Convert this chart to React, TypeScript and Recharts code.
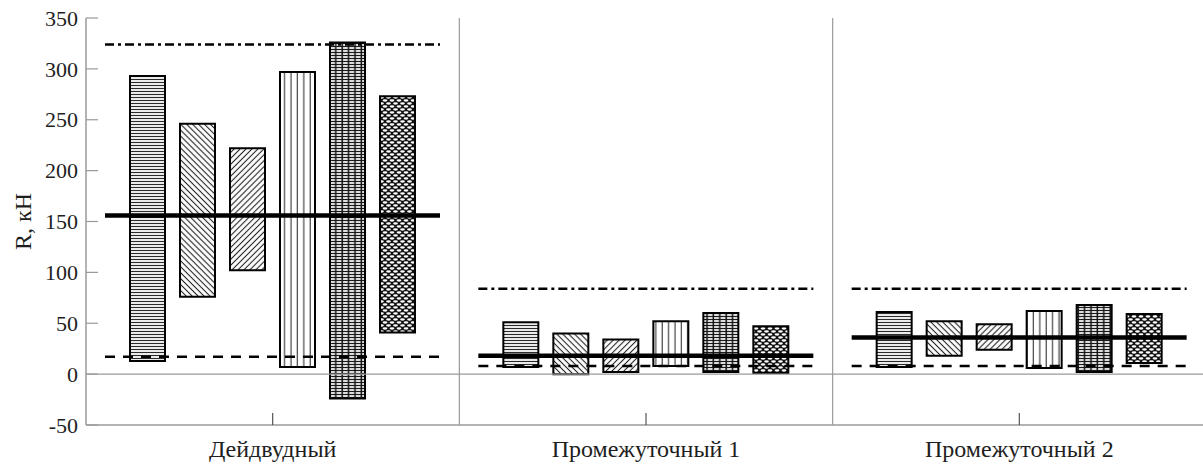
import React from 'react';
import { BarChart, Bar, XAxis, YAxis, ReferenceLine, Label } from 'recharts';

// Bearing groups along the shaft
const categories = ['Дейдвудный', 'Промежуточный 1', 'Промежуточный 2'];

// Reaction range [min, max], kN, for each loading variant per bearing
const variantA = [[13, 293], [7, 51], [7, 61]];
const variantB = [[76, 246], [0, 40], [18, 52]];
const variantC = [[102, 222], [2, 34], [24, 49]];
const variantD = [[7, 297], [8, 52], [6, 62]];
const variantE = [[-24, 326], [2, 60], [2, 68]];
const variantF = [[41, 273], [1, 47], [11, 59]];

// Reference levels per bearing, kN
const meanLevel = [156, 18, 36];
const upperLevel = [324, 84, 84];
const lowerLevel = [17, 8, 8];

const yTicks = [-50, 0, 50, 100, 150, 200, 250, 300, 350];

const variants = [
  { key: 'a', values: variantA, fill: 'url(#hatch-horizontal)' },
  { key: 'b', values: variantB, fill: 'url(#hatch-back)' },
  { key: 'c', values: variantC, fill: 'url(#hatch-forward)' },
  { key: 'd', values: variantD, fill: 'url(#hatch-vertical)' },
  { key: 'e', values: variantE, fill: 'url(#hatch-grid)' },
  { key: 'f', values: variantF, fill: 'url(#hatch-cells)' },
];

const rows = categories.map((name, i) => {
  const row: Record<string, unknown> = {
    name,
    mean: meanLevel[i],
    upper: upperLevel[i],
    lower: lowerLevel[i],
    levels: [lowerLevel[i], upperLevel[i]],
  };
  variants.forEach((v) => {
    row[v.key] = v.values[i];
  });
  return row;
});

const FONT = "'Liberation Serif', 'Times New Roman', Times, serif";
const TEXT = '#1e1e1e';
const GRAY = '#9a9a9a';

const HatchDefs = () => (
  <svg width={0} height={0} style={{ position: 'absolute' }}>
    <defs>
      <pattern id="hatch-horizontal" width={4} height={3} patternUnits="userSpaceOnUse">
        <rect width={4} height={3} fill="#fff" />
        <line x1={0} x2={4} y1={1.5} y2={1.5} stroke="#2a2a2a" strokeWidth={1.2} />
      </pattern>
      <pattern id="hatch-back" width={4.2} height={4.2} patternUnits="userSpaceOnUse" patternTransform="rotate(-45)">
        <rect width={4.2} height={4.2} fill="#fff" />
        <line x1={2.1} x2={2.1} y1={0} y2={4.2} stroke="#222" strokeWidth={1.1} />
      </pattern>
      <pattern id="hatch-forward" width={4.2} height={4.2} patternUnits="userSpaceOnUse" patternTransform="rotate(45)">
        <rect width={4.2} height={4.2} fill="#fff" />
        <line x1={2.1} x2={2.1} y1={0} y2={4.2} stroke="#222" strokeWidth={1.1} />
      </pattern>
      <pattern id="hatch-vertical" width={6.4} height={4} patternUnits="userSpaceOnUse">
        <rect width={6.4} height={4} fill="#fff" />
        <line x1={3} x2={3} y1={0} y2={4} stroke="#333" strokeWidth={1.1} />
      </pattern>
      <pattern id="hatch-grid" width={6.4} height={3} patternUnits="userSpaceOnUse">
        <rect width={6.4} height={3} fill="#fff" />
        <line x1={0} x2={6.4} y1={1.5} y2={1.5} stroke="#1a1a1a" strokeWidth={1.3} />
        <line x1={3} x2={3} y1={0} y2={3} stroke="#111" strokeWidth={1.5} />
      </pattern>
      <pattern id="hatch-cells" width={7} height={6} patternUnits="userSpaceOnUse">
        <rect width={7} height={6} fill="#111" />
        <ellipse cx={3.5} cy={1.5} rx={2.4} ry={1.15} fill="#fff" />
        <ellipse cx={0} cy={4.5} rx={2.4} ry={1.15} fill="#fff" />
        <ellipse cx={7} cy={4.5} rx={2.4} ry={1.15} fill="#fff" />
      </pattern>
    </defs>
  </svg>
);

const ValueTick = (props: any) => {
  const { x, y, payload } = props;
  return (
    <g>
      <line x1={x} x2={x + 12} y1={y} y2={y} stroke={GRAY} strokeWidth={1.2} />
      <text x={x - 8} y={y} dy="0.35em" textAnchor="end" fontFamily={FONT} fontSize={22} fill={TEXT}>
        {payload.value}
      </text>
    </g>
  );
};

const CategoryTick = (props: any) => {
  const { x, y, payload } = props;
  return (
    <g>
      <line x1={x} x2={x} y1={y - 12} y2={y} stroke="#555" strokeWidth={1.2} />
      <text x={x} y={y + 32} textAnchor="middle" fontFamily={FONT} fontSize={24} fill={TEXT}>
        {payload.value}
      </text>
    </g>
  );
};

const AxisTitle = (props: any) => {
  const vb = props.viewBox || { x: 0, y: 18, width: 86, height: 407 };
  const cx = vb.x + 31;
  const cy = vb.y + vb.height / 2;
  return (
    <text
      x={cx}
      y={cy}
      transform={`rotate(-90 ${cx} ${cy})`}
      textAnchor="middle"
      fontFamily={FONT}
      fontSize={24}
      fill={TEXT}
    >
      R, кН
    </text>
  );
};

// Draws the upper (dash-dot), lower (dashed) and mean (solid) levels of one bearing.
// The bar spans [lower, upper]; the mean is placed on the same linear scale.
const LevelShape = (props: any) => {
  const { x, y, width, height, payload } = props;
  const top = Math.min(y, y + height);
  const bottom = Math.max(y, y + height);
  const span = payload.upper - payload.lower;
  const yMean = top + ((bottom - top) * (payload.upper - payload.mean)) / span;
  const x2 = x + width;
  return (
    <g>
      <line x1={x} x2={x2} y1={top} y2={top} stroke="#000" strokeWidth={2.5} strokeDasharray="9 4 3 4" />
      <line x1={x} x2={x2} y1={bottom} y2={bottom} stroke="#000" strokeWidth={2.5} strokeDasharray="10 8" />
      <line x1={x} x2={x2} y1={yMean} y2={yMean} stroke="#000" strokeWidth={4.5} />
    </g>
  );
};

export default function App() {
  return (
    <div style={{ position: 'relative', width: 1206, height: 466 }}>
      <style>{'body{margin:0;overflow:hidden;background:#fff}'}</style>
      <HatchDefs />
      <BarChart
        width={1206}
        height={466}
        data={rows}
        margin={{ top: 18, right: 0, bottom: 0, left: 0 }}
        barSize={35}
        barGap={15}
      >
        <XAxis
          dataKey="name"
          type="category"
          height={41}
          interval={0}
          tickSize={0}
          tickMargin={0}
          tickLine={false}
          axisLine={{ stroke: GRAY, strokeWidth: 1.5 }}
          tick={CategoryTick}
        />
        <XAxis xAxisId="levels" dataKey="name" type="category" hide />
        <YAxis
          domain={[-50, 350]}
          ticks={yTicks}
          interval={0}
          allowDataOverflow
          width={86}
          tickSize={0}
          tickMargin={0}
          tickLine={false}
          axisLine={{ stroke: GRAY, strokeWidth: 1.5 }}
          tick={ValueTick}
        >
          <Label content={AxisTitle} />
        </YAxis>

        <ReferenceLine y={0} stroke={GRAY} strokeWidth={1.2} />
        <ReferenceLine x={categories[0]} position="end" stroke={GRAY} strokeWidth={1.2} />
        <ReferenceLine x={categories[1]} position="end" stroke={GRAY} strokeWidth={1.2} />

        {variants.map((v) => (
          <Bar
            key={v.key}
            dataKey={v.key}
            fill={v.fill}
            stroke="#000"
            strokeWidth={2}
            isAnimationActive={false}
          />
        ))}

        <Bar
          xAxisId="levels"
          dataKey="levels"
          barSize={335}
          shape={LevelShape}
          isAnimationActive={false}
        />
      </BarChart>
    </div>
  );
}
